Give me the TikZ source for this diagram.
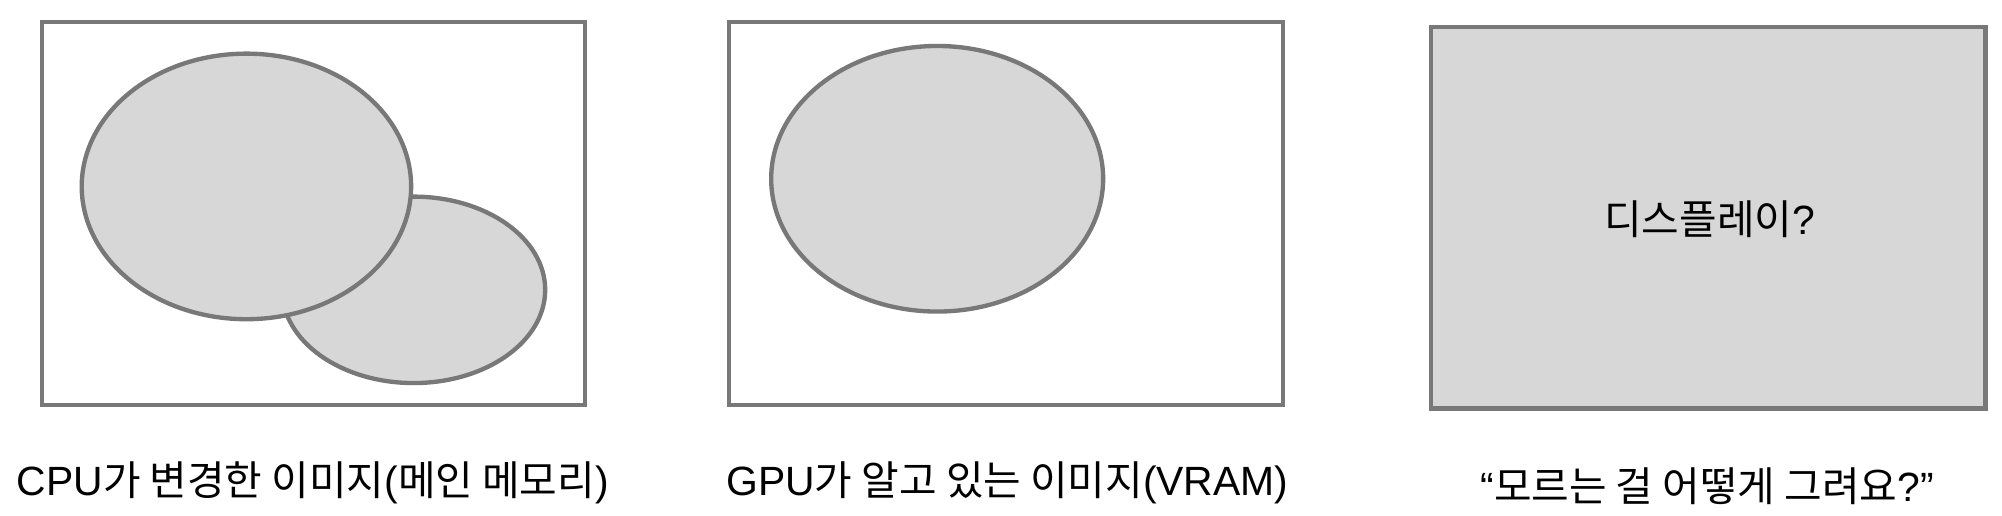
\documentclass[tikz,border=0pt]{standalone}
\usepackage{fontspec}
\usepackage[RGB]{xcolor}
\usetikzlibrary{shapes.geometric}
\setmainfont{Liberation Sans}
\newfontfamily\krfont{Noto Sans CJK KR}
\newcommand{\ko}[1]{{\krfont #1}}
\definecolor{edge}{RGB}{120,120,120}
\definecolor{shade}{RGB}{215,215,215}
\tikzset{
  screen/.style={draw=edge, line width=1.7pt, rectangle, inner sep=0pt},
  blob/.style={draw=edge, fill=shade, line width=1.7pt, ellipse, inner sep=0pt},
  caption/.style={font=\fontsize{16}{19}\selectfont, inner sep=0pt}
}

\begin{document}
\begin{tikzpicture}[x=0.5pt, y=-0.5pt]
\useasboundingbox (0,0) rectangle (1568,404);
% main memory
\node[screen, minimum width=212.5pt, minimum height=150pt] (mainmem) at (245.5,167) {};
\node[blob, minimum width=103pt, minimum height=73pt] (changed) at (324,227) {};
\node[blob, minimum width=129pt, minimum height=104pt] (original) at (193,146) {};
% vram
\node[screen, minimum width=217pt, minimum height=150pt] (vram) at (788,167) {};
\node[blob, minimum width=130pt, minimum height=104pt] (known) at (734,140) {};
% display
\node[screen, fill=shade, minimum width=217pt, minimum height=149.5pt] (display) at (1338,170.5) {};
\node[caption] (displaytext) at (1339,172) {\ko{디스플레이}?};
% captions
\node[caption] (mainmemtext) at (245,378) {CPU\ko{가 변경한 이미지}(\ko{메인 메모리})};
\node[caption] (vramtext) at (789,378) {GPU\ko{가 알고 있는 이미지}(VRAM)};
\node[caption] (displaycap) at (1337,381) {“\ko{모르는 걸 어떻게 그려요}?”};
\end{tikzpicture}
\end{document}
